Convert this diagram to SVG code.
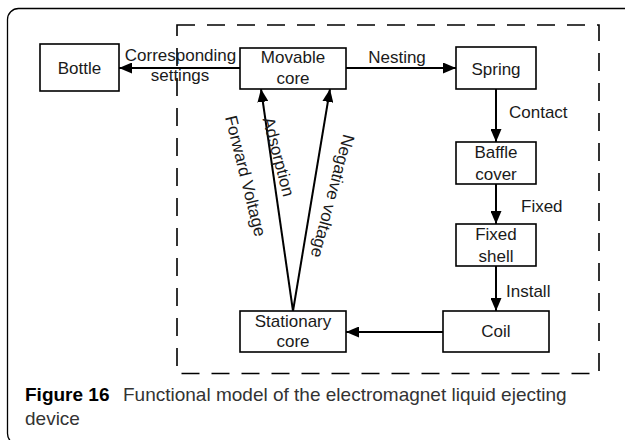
<svg xmlns="http://www.w3.org/2000/svg" width="625" height="440" viewBox="0 0 625 440">
<style>
.box{fill:#fff;stroke:#000;stroke-width:1.6}
.t{font-family:"Liberation Sans",Arial,sans-serif;font-size:17px;fill:#1a1a1a}
.c{text-anchor:middle}
.ln{stroke:#000;stroke-width:2;fill:none;marker-end:url(#ah)}
.cap{font-family:"Liberation Sans",Arial,sans-serif;font-size:19px;fill:#333}
</style>
<defs>
<marker id="ah" markerUnits="userSpaceOnUse" markerWidth="13" markerHeight="11" refX="13" refY="5.5" orient="auto">
<path d="M0,0 L13,5.5 L0,11 z" fill="#000"/>
</marker>
</defs>
<rect width="625" height="440" fill="#fff"/>
<rect x="7.5" y="8.5" width="700" height="436" rx="11" fill="none" stroke="#000" stroke-width="1.3"/>
<rect x="177" y="25" width="422" height="348.5" fill="none" stroke="#000" stroke-width="1.6" stroke-dasharray="18 12"/>
<g id="connectors">
<line class="ln" x1="240" y1="68" x2="119" y2="68"/>
<line class="ln" x1="346" y1="68" x2="456" y2="68"/>
<line class="ln" x1="496" y1="89" x2="496" y2="142"/>
<line class="ln" x1="496" y1="184" x2="496" y2="224"/>
<line class="ln" x1="496" y1="266" x2="496" y2="311"/>
<line class="ln" x1="443" y1="332" x2="346" y2="332"/>
<line class="ln" x1="293" y1="311" x2="261" y2="89"/>
<line class="ln" x1="293" y1="311" x2="330" y2="89"/>
<text class="t c" x="180.5" y="61">Corresponding</text>
<text class="t c" x="180" y="81">settings</text>
<text class="t c" x="397" y="63">Nesting</text>
<text class="t" x="509" y="118">Contact</text>
<text class="t" x="521" y="212">Fixed</text>
<text class="t" x="506" y="297">Install</text>
<text class="t c" transform="translate(240,177.3) rotate(76)">Forward Voltage</text>
<text class="t c" transform="translate(273,158.3) rotate(75)">Adsorption</text>
<text class="t c" transform="translate(327,194.7) rotate(105)">Negative voltage</text>
</g>
<g id="bottle"><rect class="box" x="40" y="44" width="79" height="47"/><text class="t c" x="79.5" y="74">Bottle</text></g>
<g id="movable-core"><rect class="box" x="240" y="48" width="106" height="41"/><text class="t c" x="293" y="63">Movable</text><text class="t c" x="293" y="84">core</text></g>
<g id="spring"><rect class="box" x="456" y="47" width="80" height="42"/><text class="t c" x="496" y="75">Spring</text></g>
<g id="baffle-cover"><rect class="box" x="456" y="142" width="80" height="42"/><text class="t c" x="496" y="158">Baffle</text><text class="t c" x="496" y="180">cover</text></g>
<g id="fixed-shell"><rect class="box" x="456" y="224" width="80" height="42"/><text class="t c" x="496" y="240">Fixed</text><text class="t c" x="496" y="262">shell</text></g>
<g id="coil"><rect class="box" x="443" y="311" width="106" height="41"/><text class="t c" x="496" y="337">Coil</text></g>
<g id="stationary-core"><rect class="box" x="240" y="311" width="106" height="41"/><text class="t c" x="293" y="327">Stationary</text><text class="t c" x="293" y="347">core</text></g>
<g id="caption">
<text class="cap" x="25" y="401"><tspan font-weight="bold" fill="#000">Figure 16</tspan><tspan x="123">Functional model of the electromagnet liquid ejecting</tspan></text>
<text class="cap" x="25" y="425">device</text>
</g>
</svg>
